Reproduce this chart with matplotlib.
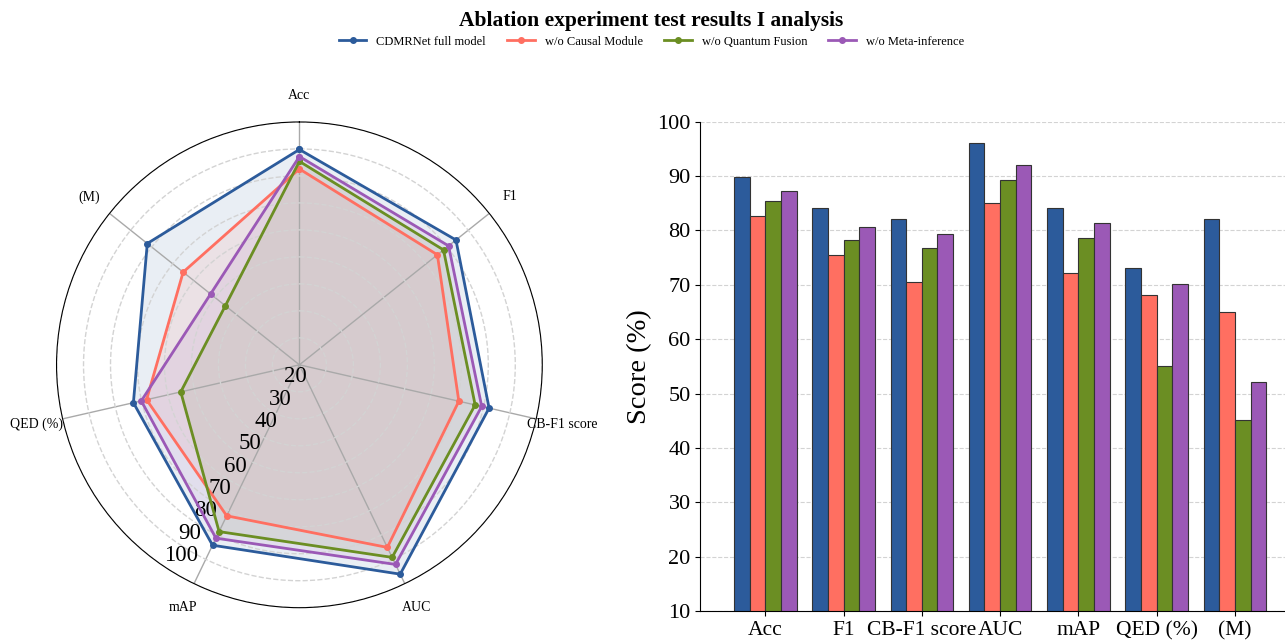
import matplotlib.pyplot as plt
import numpy as np

plt.rcParams["font.family"] = ["Liberation Serif", "DejaVu Serif"]

categories = ["Acc", "F1", "CB-F1 score", "AUC", "mAP", "QED (%)", "(M)"]
models = ["CDMRNet full model", "w/o Causal Module", "w/o Quantum Fusion", "w/o Meta-inference"]
full = [89.8, 84.2, 82.1, 96.1, 84.2, 73.1, 82.1]
no_causal = [82.6, 75.4, 70.6, 85.1, 72.1, 68.1, 65.1]
no_quantum = [85.4, 78.3, 76.8, 89.2, 78.6, 55.1, 45.1]
no_meta = [87.2, 80.7, 79.3, 92.1, 81.3, 70.1, 52.1]
series = [full, no_causal, no_quantum, no_meta]
colors = ["#2c5b9b", "#ff6f61", "#6b8e23", "#9b59b6"]
r_ticks = [20, 30, 40, 50, 60, 70, 80, 90, 100]
y_ticks = [10, 20, 30, 40, 50, 60, 70, 80, 90, 100]

fig = plt.figure(figsize=(12.85, 6.44), dpi=100)

# Radar
ax1 = fig.add_axes([0.044, 0.056, 0.378, 0.755], projection="polar")
n = len(categories)
angles = np.linspace(0, 2 * np.pi, n, endpoint=False)
ang_closed = np.concatenate([angles, angles[:1]])
ax1.set_theta_offset(np.pi / 2)
ax1.set_theta_direction(-1)
for vals, c, name in zip(series, colors, models):
    v = np.array(vals + vals[:1])
    ax1.plot(ang_closed, v, color=c, lw=2, marker="o", ms=4, label=name)
    ax1.fill(ang_closed, v, color=c, alpha=0.1)
ax1.set_ylim(10, 100)
ax1.set_yticks(r_ticks)
ax1.set_yticklabels([str(t) for t in r_ticks], fontsize=16.5)
ax1.set_rlabel_position(214)
ax1.set_thetagrids(np.degrees(angles), categories, fontsize=10)
ax1.tick_params(axis="x", pad=8.5)
ax1.yaxis.grid(True, color="lightgray", linestyle="dashed", lw=1)
ax1.xaxis.grid(True, color="darkgray", linestyle="solid", lw=1)

# Bars
ax2 = fig.add_axes([0.545, 0.051, 0.455, 0.760])
x = np.arange(n)
width = 0.2
for i, (vals, c, name) in enumerate(zip(series, colors, models)):
    ax2.bar(x + (i - 1.5) * width, vals, width, color=c, edgecolor="#333333", linewidth=0.8, label=name)
ax2.set_xticks(x)
ax2.set_xticklabels(categories, fontsize=15.5)
ax2.set_yticks(y_ticks)
ax2.tick_params(axis="y", labelsize=16)
ax2.set_ylim(10, 100)
ax2.set_xlim(-0.83, 6.64)
ax2.set_ylabel("Score (%)", fontsize=20.5)
ax2.spines["top"].set_visible(False)
ax2.spines["right"].set_visible(False)
ax2.yaxis.grid(True, color="lightgray", linestyle="dashed")
ax2.set_axisbelow(True)

fig.suptitle("Ablation experiment test results I analysis", x=0.507, fontsize=15.5, fontweight="bold", y=0.983)
handles, labels = ax1.get_legend_handles_labels()
fig.legend(handles, labels, loc="upper center", bbox_to_anchor=(0.507, 0.962), ncol=4,
           frameon=False, fontsize=9, handlelength=2.2, columnspacing=1.7)

plt.savefig("out.png", dpi=100)
